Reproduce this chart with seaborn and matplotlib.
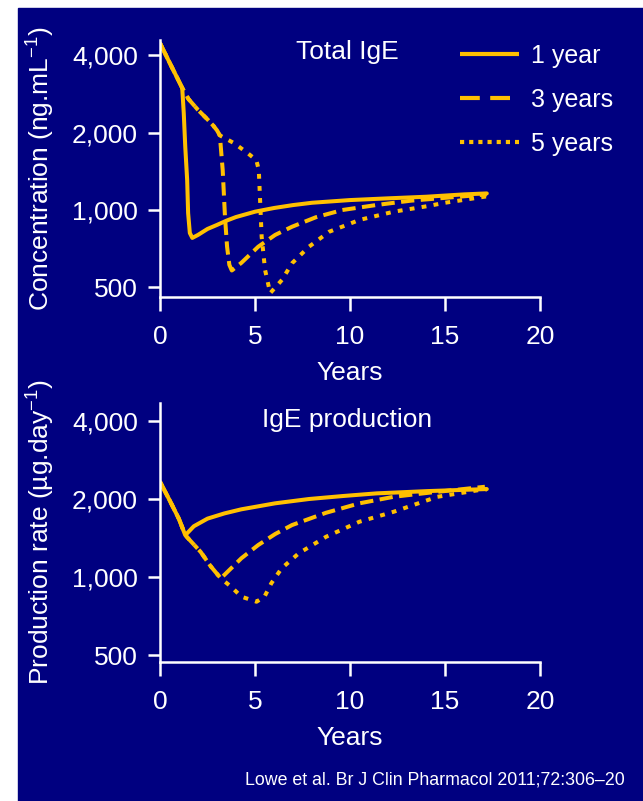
import numpy as np
import pandas as pd
import matplotlib
matplotlib.use("Agg")
import matplotlib.pyplot as plt
from matplotlib.lines import Line2D
import seaborn as sns

# Total IgE concentration (ng/mL) by treatment duration
conc_t_1yr = [0, 0.3, 0.6, 0.9, 1.17, 1.25, 1.33, 1.43, 1.48, 1.57, 1.7, 2.0, 2.5, 3.0, 3.5, 4.0,
              5.0, 6.0, 7.0, 8.0, 10.0, 12.0, 14.0, 16.0, 17.2]
conc_v_1yr = [4450, 4015, 3620, 3270, 2980, 2383, 1757, 1307, 973, 814, 779, 800, 844, 875, 909, 939,
              985, 1018, 1045, 1067, 1093, 1110, 1126, 1150, 1160]

conc_t_3yr = [0, 0.3, 0.6, 0.9, 1.17, 1.5, 2.0, 2.5, 2.8, 3.0, 3.15, 3.3, 3.42, 3.53, 3.65, 3.78,
              4.28, 5.17, 6.06, 6.95, 8.2, 9.6, 11.4, 13.2, 15.0, 17.2]
conc_v_3yr = [4450, 4015, 3620, 3270, 2980, 2700, 2450, 2250, 2130, 2040, 1950, 1430, 942, 720, 612, 582,
              623, 720, 800, 861, 937, 1000, 1046, 1087, 1115, 1150]

conc_t_5yr = [0, 0.3, 0.6, 0.9, 1.17, 1.5, 2.0, 2.5, 2.8, 3.0, 3.15, 3.92, 4.63, 5.07, 5.2, 5.26,
              5.35, 5.53, 5.8, 6.42, 6.95, 7.84, 8.9, 10.5, 12.3, 14.1, 15.0, 17.2]
conc_v_5yr = [4450, 4015, 3620, 3270, 2980, 2700, 2450, 2250, 2130, 2040, 1950, 1815, 1660, 1563, 1430, 1126,
              788, 585, 475, 535, 621, 720, 823, 915, 985, 1036, 1067, 1130]

# IgE production rate (ug/day)
prod_t_1yr = [0, 0.5, 1.0, 1.33, 1.78, 2.5, 3.39, 4.28, 6.06, 7.84, 9.63, 11.4, 14.1, 17.2]
prod_v_1yr = [2330, 1982, 1674, 1450, 1570, 1680, 1760, 1825, 1925, 2000, 2054, 2103, 2146, 2185]

prod_t_3yr = [0, 0.5, 1.0, 1.33, 2.14, 2.67, 3.2, 3.74, 4.28, 5.17, 6.06, 6.95, 8.74, 10.5, 12.3,
              14.1, 17.1]
prod_v_3yr = [2330, 1982, 1674, 1450, 1250, 1100, 988, 1080, 1181, 1329, 1465, 1587, 1770, 1925, 2040,
              2113, 2230]

prod_t_5yr = [0, 0.5, 1.0, 1.33, 2.14, 2.67, 3.2, 3.74, 4.28, 5.08, 5.5, 5.86, 6.4, 7.3, 8.74, 10.5,
              12.3, 14.6, 16.8, 17.2]
prod_v_5yr = [2330, 1982, 1674, 1450, 1250, 1100, 988, 918, 840, 803, 840, 946, 1080, 1234, 1430, 1635,
              1786, 2040, 2166, 2180]

legend_labels = ["1 year", "3 years", "5 years"]
y_ticks = [500, 1000, 2000, 4000]
y_tick_labels = ["500", "1,000", "2,000", "4,000"]
x_ticks = [0, 5, 10, 15, 20]

navy = "#000080"
gold = "#FFC000"
white = "white"

sns.set_style("ticks")
plt.rcParams["font.family"] = ["Liberation Sans", "DejaVu Sans"]
plt.rcParams["mathtext.fontset"] = "custom"
plt.rcParams["mathtext.rm"] = "Liberation Sans"
plt.rcParams["mathtext.it"] = "Liberation Sans:italic"

W, H = 643, 801
fig = plt.figure(figsize=(W / 100, H / 100), dpi=100)
fig.patch.set_facecolor("white")
fig.patches.append(plt.Rectangle((18 / W, 0), 1, 1 - 8 / H, transform=fig.transFigure,
                                 color=navy, zorder=-10))

ax1 = fig.add_axes([160 / W, 1 - 297 / H, 380 / W, 257 / H])
ax2 = fig.add_axes([160 / W, 1 - 662 / H, 380 / W, 259 / H])
ax1.set_zorder(2)
ax2.set_zorder(2)

dash_styles = [None, (3.3, 1.6), (1.2, 1.8)]

def draw(ax, series):
    for (t, v), ds in zip(series, dash_styles):
        sns.lineplot(x=t, y=v, ax=ax, color=gold, lw=2.9, sort=False, estimator=None)
        line = ax.lines[-1]
        if ds is not None:
            line.set_dashes(ds)

draw(ax1, [(conc_t_1yr, conc_v_1yr), (conc_t_3yr, conc_v_3yr), (conc_t_5yr, conc_v_5yr)])
draw(ax2, [(prod_t_1yr, prod_v_1yr), (prod_t_3yr, prod_v_3yr), (prod_t_5yr, prod_v_5yr)])

fs = 19
for ax, ylim, ylabel in [(ax1, (459, 4580), "Concentration (ng.mL$^{-1}$)"),
                         (ax2, (470, 4694), "Production rate (µg.day$^{-1}$)")]:
    ax.set_facecolor(navy)
    ax.set_yscale("log")
    ax.set_ylim(*ylim)
    ax.set_xlim(0, 20)
    ax.set_yticks(y_ticks)
    ax.set_yticklabels(y_tick_labels)
    ax.yaxis.set_minor_locator(matplotlib.ticker.NullLocator())
    ax.set_xticks(x_ticks)
    ax.set_xticklabels([str(x) for x in x_ticks])
    sns.despine(ax=ax)
    for s in ["left", "bottom"]:
        ax.spines[s].set_color(white)
        ax.spines[s].set_linewidth(1.8)
    ax.tick_params(axis="y", colors=white, labelsize=fs, length=9, width=1.8, pad=7)
    ax.tick_params(axis="x", colors=white, labelsize=fs, length=10, width=1.8, pad=10)
    ax.set_xlabel("Years", color=white, fontsize=fs, labelpad=9)
    ax.set_ylabel(ylabel, color=white, fontsize=fs)
    ax.yaxis.set_label_coords(-0.272, 0.5)

ax1.text(0.492, 0.953, "Total IgE", transform=ax1.transAxes, color=white, fontsize=fs,
         ha="center", va="center")
ax2.text(0.492, 0.934, "IgE production", transform=ax2.transAxes, color=white, fontsize=fs,
         ha="center", va="center")

handles = [Line2D([], [], color=gold, lw=3, solid_capstyle="butt"),
           Line2D([], [], color=gold, lw=3, dashes=(4.75, 2.5), dash_capstyle="butt"),
           Line2D([], [], color=gold, lw=3, dashes=(1, 1.2), dash_capstyle="butt")]
leg = fig.legend(handles, legend_labels, loc="upper left", bbox_to_anchor=(460 / W, 1 - 44 / H),
                 frameon=False, fontsize=18, handlelength=2.35, handletextpad=0.5,
                 labelspacing=0.8, borderpad=0, borderaxespad=0)
for txt in leg.get_texts():
    txt.set_color(white)

fig.text(625 / W, 1 - 780 / H, "Lowe et al. Br J Clin Pharmacol 2011;72:306\u201320", color=white,
         fontsize=12.8, ha="right", va="center")

fig.savefig("out.png", dpi=100, facecolor=fig.get_facecolor())
